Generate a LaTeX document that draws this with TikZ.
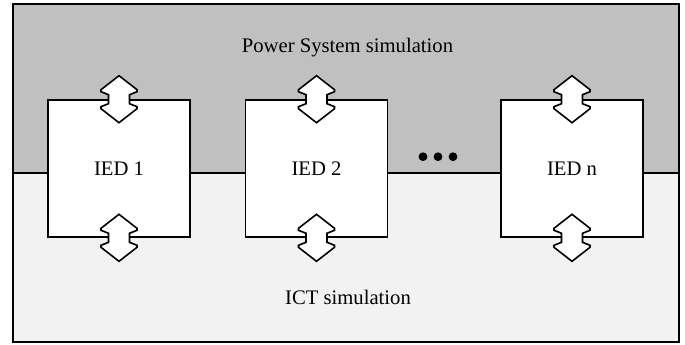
\documentclass[tikz,border=0pt]{standalone}
\usepackage{fontspec}
\setmainfont{Liberation Serif}
\begin{document}
\begin{tikzpicture}[x=0.75pt,y=-0.75pt,
  lw/.style={line width=1.2pt},
  iedbox/.style={draw,lw,fill=white,minimum width=106.5pt,minimum height=102.75pt,inner sep=0pt,font=\fontsize{15.5}{18}\selectfont},
  lbl/.style={font=\fontsize{15.5}{18}\selectfont,inner sep=0pt},
  updown/.style={draw,lw,fill=white,line join=miter},
  dotc/.style={circle,fill=black,minimum size=6.6pt,inner sep=0pt}]
\useasboundingbox (0,0) rectangle (685,344);
\definecolor{psgray}{RGB}{192,192,192}
\definecolor{ictgray}{RGB}{242,242,242}
% regions
\fill[psgray] (13,4) rectangle (679,173);
\fill[ictgray] (13,173) rectangle (679,342);
\draw[lw] (13,4) rectangle (679,342);
\draw[lw] (13,173) -- (679,173);
% IED boxes
\node[iedbox] (ied1) at (119,168.5) {IED 1};
\node[iedbox] (ied2) at (316.5,168.5) {IED 2};
\node[iedbox] (iedn) at (572,168.5) {IED n};
% double arrows
\foreach \b in {ied1,ied2,iedn}{
  \foreach \a in {north,south}{
    \draw[updown,shift={(\b.\a)}] (0,-23.5) -- (18,-9.5) -- (18,-7.5) -- (10.5,-4.5) -- (10.5,4.5) -- (18,7.5) -- (18,9.5) -- (0,23.5) -- (-18,9.5) -- (-18,7.5) -- (-10.5,4.5) -- (-10.5,-4.5) -- (-18,-7.5) -- (-18,-9.5) -- cycle;
  }
}
% labels
\node[lbl,anchor=base] (pss) at (347.5,52.3) {Power System simulation};
\node[lbl,anchor=base] (ict) at (348,304.3) {ICT simulation};
% dots
\node[dotc] (d1) at (423,156.7) {};
\node[dotc] (d2) at (438,156.7) {};
\node[dotc] (d3) at (453,156.7) {};
\end{tikzpicture}
\end{document}
